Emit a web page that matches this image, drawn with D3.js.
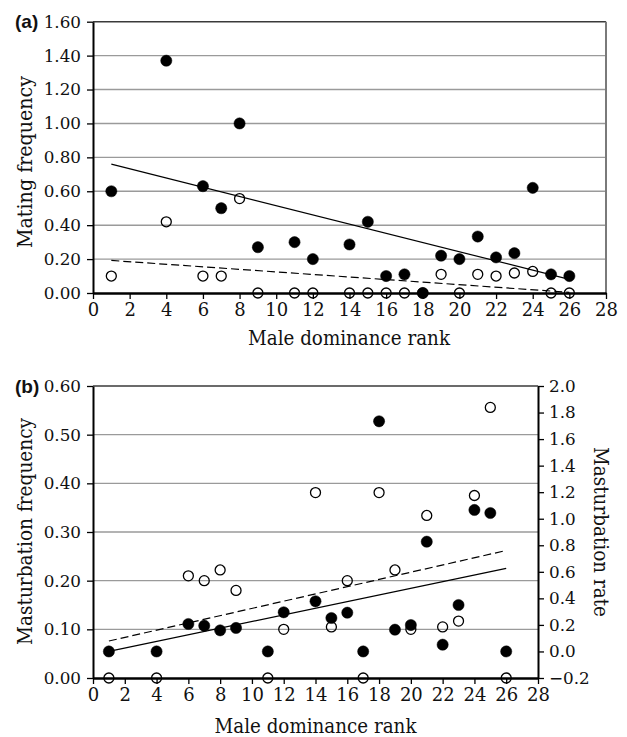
<!DOCTYPE html>
<html><head><meta charset="utf-8">
<script src="https://cdn.jsdelivr.net/npm/d3@7"></script>
<style>body{margin:0;background:#fff}
.tick text{font-family:"DejaVu Serif",serif !important;}
</style>
</head><body><svg id="c" width="627" height="737"></svg>
<script>
// ---------- data ----------
const ranks = [1,4,6,7,8,9,11,12,14,15,16,17,18,19,20,21,22,23,24,25,26];
const matingFilled = [0.60,1.37,0.63,0.50,1.00,0.27,0.30,0.20,0.286,0.42,0.10,0.11,0.00,0.22,0.20,0.333,0.21,0.235,0.62,0.11,0.10];
const matingOpen   = [0.10,0.42,0.10,0.10,0.557,0,0,0,0,0,0,0,0,0.11,0,0.11,0.10,0.118,0.127,0,0];
const mastFreqOpen   = [0,0,0.21,0.20,0.222,0.18,0,0.10,0.381,0.105,0.20,0,0.381,0.222,0.10,0.334,0.105,0.117,0.375,0.556,0];
const mastRateFilled = [0.0,0.0,0.207,0.194,0.159,0.177,0.0,0.295,0.378,0.252,0.292,0.0,1.734,0.164,0.199,0.827,0.051,0.35,1.066,1.043,0.0];
const trendRanks = [1,26];
const trendMatingFilled = [0.76,0.08];
const trendMatingOpen = [0.192,0.004];
const trendRateFilled = [0.0,0.626];
const trendFreqOpen = [0.076,0.262];
const xTicks = d3.range(0,29,2);
const yTicksA = [0,0.2,0.4,0.6,0.8,1.0,1.2,1.4,1.6];
const yTicksB = [0,0.1,0.2,0.3,0.4,0.5,0.6];
const yTicksB2 = [-0.2,0,0.2,0.4,0.6,0.8,1.0,1.2,1.4,1.6,1.8,2.0];
const xTitle = "Male dominance rank";

const svg = d3.select("#c");
const SERIF = "DejaVu Serif";
const tickFont = 16.8, xTickFont = 18, titleFont = 19.5;

function styleAxis(g, w, fs){
  g.attr("font-family",SERIF).attr("font-size",fs);
  g.select(".domain").attr("stroke","#000").attr("stroke-width",w);
  g.selectAll(".tick line").attr("stroke","#000").attr("stroke-width",1.3);
  g.selectAll(".tick text").style("font-family",SERIF).style("font-size",fs+"px").attr("fill","#111");
}

function panel(o){
  const x = d3.scaleLinear().domain([0,28]).range([o.left,o.right]);
  const y = d3.scaleLinear().domain(o.yDomain).range([o.bottom,o.top]);
  const g = svg.append("g");
  g.selectAll(".grid").data(o.yTicks.slice(1,-1)).join("line")
    .attr("x1",o.left).attr("x2",o.right).attr("y1",d=>y(d)).attr("y2",d=>y(d))
    .attr("stroke","#9a9a9a").attr("stroke-width",1.4);
  g.append("line").attr("x1",o.left).attr("x2",o.right).attr("y1",o.top).attr("y2",o.top)
    .attr("stroke","#3a3a3a").attr("stroke-width",1.6);
  if(o.rightBorder){
    g.append("line").attr("x1",o.right).attr("x2",o.right).attr("y1",o.top).attr("y2",o.bottom)
      .attr("stroke","#7a7a7a").attr("stroke-width",2);
  }
  const ly = g.append("g").attr("transform",`translate(${o.left},0)`)
    .call(d3.axisLeft(y).tickValues(o.yTicks).tickFormat(d3.format(".2f")).tickSize(6).tickSizeOuter(0).tickPadding(6));
  styleAxis(ly,2,tickFont);
  const bx = g.append("g").attr("transform",`translate(0,${o.bottom})`)
    .call(d3.axisBottom(x).tickValues(xTicks).tickFormat(d3.format("d")).tickSize(6).tickSizeOuter(0).tickPadding(4));
  styleAxis(bx,2.6,xTickFont);
  return {x,y,g};
}

function drawPoints(g,x,y,vals,filled){
  g.append("g").selectAll("circle").data(vals.map((v,i)=>[ranks[i],v])).join("circle")
    .attr("cx",d=>x(d[0])).attr("cy",d=>y(d[1]))
    .attr("r",filled?5.6:5)
    .attr("fill",filled?"#000":"none")
    .attr("stroke","#000").attr("stroke-width",filled?0.5:1.3);
}
function drawTrend(g,x,y,vals,dashed){
  const line = d3.line().x(d=>x(d[0])).y(d=>y(d[1]));
  g.append("path").datum(vals.map((v,i)=>[trendRanks[i],v])).attr("d",line)
    .attr("fill","none").attr("stroke","#000").attr("stroke-width",1.2)
    .attr("stroke-dasharray",dashed?"8,4":null);
}
function txt(t,len,attrs){
  const e = svg.append("text").attr("font-family",SERIF).attr("font-size",titleFont).attr("fill","#111")
    .attr("text-anchor","middle").attr("textLength",len).attr("lengthAdjust","spacingAndGlyphs").text(t);
  for(const k in attrs) e.attr(k,attrs[k]);
  return e;
}

// ---------- panel (a) ----------
const A = panel({left:93,right:606,top:21.7,bottom:293,yDomain:[0,1.6],yTicks:yTicksA,rightBorder:true});
drawTrend(A.g,A.x,A.y,trendMatingFilled,false);
drawTrend(A.g,A.x,A.y,trendMatingOpen,true);
drawPoints(A.g,A.x,A.y,matingOpen,false);
drawPoints(A.g,A.x,A.y,matingFilled,true);
txt(xTitle,202,{x:349,y:345});
txt("Mating frequency",172,{transform:"translate(32,162) rotate(-90)"});
svg.append("text").attr("x",15).attr("y",28).attr("font-family","Liberation Sans").attr("font-weight","bold")
  .attr("font-size",19).attr("fill","#111").text("(a)");

// ---------- panel (b) ----------
const B = panel({left:93,right:538,top:386,bottom:678,yDomain:[0,0.6],yTicks:yTicksB,rightBorder:false});
const y2 = d3.scaleLinear().domain([-0.2,2.0]).range([678,386]);
const ry = B.g.append("g").attr("transform","translate(538,0)")
  .call(d3.axisRight(y2).tickValues(yTicksB2).tickFormat(d3.format(".1f")).tickSize(6).tickSizeOuter(0).tickPadding(5));
styleAxis(ry,2,tickFont);
drawTrend(B.g,B.x,y2,trendRateFilled,false);
drawTrend(B.g,B.x,B.y,trendFreqOpen,true);
drawPoints(B.g,B.x,B.y,mastFreqOpen,false);
drawPoints(B.g,B.x,y2,mastRateFilled,true);
txt(xTitle,202,{x:315.5,y:733});
txt("Masturbation frequency",227,{transform:"translate(32,531.5) rotate(-90)"});
txt("Masturbation rate",170,{transform:"translate(594,532) rotate(90)"});
svg.append("text").attr("x",15).attr("y",393).attr("font-family","Liberation Sans").attr("font-weight","bold")
  .attr("font-size",19).attr("fill","#111").text("(b)");
</script></body></html>
